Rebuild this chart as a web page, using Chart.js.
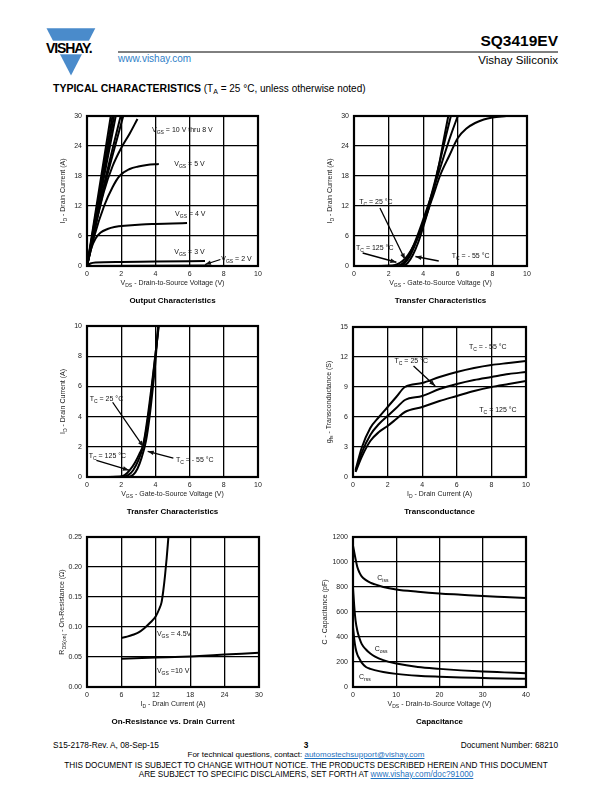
<!DOCTYPE html>
<html><head><meta charset="utf-8">
<script src="https://cdn.jsdelivr.net/npm/chart.js@4.4.1/dist/chart.umd.min.js"></script>
<style>
html,body{margin:0;padding:0;background:#fff;}
body{width:612px;height:792px;position:relative;overflow:hidden;font-family:"Liberation Sans",Arial,sans-serif;color:#000;}
.t{position:absolute;white-space:nowrap;line-height:1;}
canvas{position:absolute;}
a{color:#1f72c0;}
</style></head><body>
<svg class="t" style="left:0;top:0" width="612" height="100">
  <polygon points="46.5,28.3 95.3,28.3 71,75.5" fill="#4a8bcb"/>
  <rect x="40" y="40.7" width="60" height="13.6" fill="#fff"/>
  <line x1="118" y1="52" x2="558" y2="52" stroke="#000" stroke-width="1"/>
  <line x1="53" y1="738.5" x2="558" y2="738.5" stroke="#000" stroke-width="1"/>
</svg>
<div class="t" style="left:46px;top:41px;font-weight:bold;font-size:14px;letter-spacing:-1.1px;">VISHAY.</div>
<div class="t" style="right:54px;top:33px;font-weight:bold;font-size:15.5px;">SQ3419EV</div>
<div class="t" style="left:118px;top:54px;font-size:10px;color:#2f80c8;">www.vishay.com</div>
<div class="t" style="right:54px;top:55px;font-size:11.5px;">Vishay Siliconix</div>
<div class="t" style="left:53px;top:82.5px;font-size:10px;"><b style="font-size:10.5px">TYPICAL CHARACTERISTICS</b> (T<sub style="font-size:7px;vertical-align:-2px">A</sub> = 25 °C, unless otherwise noted)</div>
<canvas id="c1"></canvas><canvas id="c2"></canvas><canvas id="c3"></canvas>
<canvas id="c4"></canvas><canvas id="c5"></canvas><canvas id="c6"></canvas>
<div class="t" style="left:53px;top:740.5px;font-size:8.3px;">S15-2178-Rev. A, 08-Sep-15</div>
<div class="t" style="left:0;width:612px;text-align:center;top:740.5px;font-size:8.3px;font-weight:bold;">3</div>
<div class="t" style="right:54px;top:740.5px;font-size:8.3px;">Document Number: 68210</div>
<div class="t" style="left:0;width:612px;text-align:center;top:751px;font-size:8px;">For technical questions, contact: <a href="#">automostechsupport@vishay.com</a></div>
<div class="t" style="left:0;width:612px;text-align:center;top:762px;font-size:8.2px;">THIS DOCUMENT IS SUBJECT TO CHANGE WITHOUT NOTICE. THE PRODUCTS DESCRIBED HEREIN AND THIS DOCUMENT</div>
<div class="t" style="left:0;width:612px;text-align:center;top:771px;font-size:8.2px;">ARE SUBJECT TO SPECIFIC DISCLAIMERS, SET FORTH AT <a href="#">www.vishay.com/doc?91000</a></div>
<script>
// ================= DATA =================
// 1) Output characteristics: [VDS (V), ID (A)]
const outBundle1 = [[0,0],[0.7,15.1],[1.39,30]];
const outBundle2 = [[0,0],[0.75,15.1],[1.49,30]];
const outBundle3 = [[0,0],[0.8,15.2],[1.58,30]];
const outBundle4 = [[0,0],[0.85,15.2],[1.68,30]];
const outBundle5 = [[0,0],[0.5,8.4],[1.0,16.3],[1.5,23.5],[1.97,30]];
const outBundle6 = [[0,0],[0.5,8.1],[1.0,15.6],[1.5,22.2],[2.12,30]];
const outVgs6 = [[0,0],[0.5,8.0],[1.0,15.0],[1.5,20.0],[2.0,23.6],[2.5,26.5],[2.95,29.4]];
const outVgs5 = [[0,0],[0.43,6],[1.0,12],[1.5,15.8],[1.9,18],[2.5,19.4],[3.0,19.9],[3.5,20.2],[4.2,20.4]];
const outVgs4 = [[0,0],[0.25,3.5],[0.5,5.5],[0.8,6.7],[1.2,7.4],[1.6,7.8],[2.4,8.1],[3.2,8.3],[4.0,8.4],[5.0,8.5],[5.85,8.6]];
const outVgs3 = [[0,0],[0.2,0.5],[0.5,0.7],[2.0,0.8],[4.0,0.9],[6.9,1.0]];
const outVgs2 = [[0,0],[7.0,0.08]];
const outXTicks = [0,2,4,6,8,10];
const outYTicks = [0,6,12,18,24,30];

// 2) Transfer characteristics, 0-30 A: [VGS (V), ID (A)]
const tr30Tm55 = [[0,0],[2.8,0.05],[3.1,0.6],[3.4,2.2],[3.7,4.6],[4.0,7.8],[4.3,11.3],[4.6,15.3],[4.9,20],[5.2,25.5],[5.45,30]];
const tr30Tm40 = [[0,0],[2.6,0.05],[2.9,0.5],[3.2,1.8],[3.5,4.0],[3.8,6.7],[4.1,9.8],[4.4,13.3],[4.7,17.2],[5.0,21.4],[5.3,25.8],[5.6,30]];
const tr30T25 = [[0,0],[2.5,0.05],[2.8,0.5],[3.1,1.7],[3.4,3.8],[3.7,6.4],[4.0,9.3],[4.4,13.3],[4.8,17.6],[5.2,22],[5.6,26.2],[6.0,30]];
const tr30T125 = [[0,0],[2.2,0.05],[2.5,0.35],[2.8,1.0],[3.1,2.1],[3.5,4.4],[4.0,8.4],[4.5,13.3],[5.0,18.3],[5.5,22.0],[6.0,25.6],[6.5,27.5],[7.0,28.6],[7.5,29.3],[8.0,29.7],[8.8,30]];
const tr30XTicks = [0,2,4,6,8,10];
const tr30YTicks = [0,6,12,18,24,30];

// 3) Transfer characteristics, 0-10 A
const tr10T125 = [[0,0],[1.9,0.02],[2.2,0.12],[2.5,0.45],[2.8,0.95],[3.05,1.5],[3.3,2.2],[3.55,4.0],[3.8,6.2],[4.0,8.1],[4.2,10]];
const tr10T25 = [[0,0],[2.1,0.02],[2.4,0.12],[2.7,0.45],[3.0,1.1],[3.25,1.9],[3.45,3.0],[3.7,5.0],[3.9,7.0],[4.05,8.6],[4.18,10]];
const tr10Tm55 = [[0,0],[2.4,0.02],[2.7,0.15],[2.95,0.55],[3.2,1.3],[3.45,2.4],[3.65,3.9],[3.85,5.9],[4.0,7.6],[4.16,10]];
const tr10XTicks = [0,2,4,6,8,10];
const tr10YTicks = [0,2,4,6,8,10];

// 4) Transconductance: [ID (A), gfs (S)]
const gfsTm55 = [[0.15,0.7],[0.5,2.9],[1.0,4.9],[1.5,6.0],[2.0,7.0],[2.5,8.0],[3.0,9.0],[4.0,9.4],[5.0,10.0],[6.0,10.5],[7.0,10.9],[8.0,11.2],[9.0,11.4],[10,11.6]];
const gfsT25 = [[0.15,0.6],[0.5,2.4],[1.0,4.2],[1.5,5.3],[2.0,6.1],[2.5,6.9],[3.0,7.7],[4.0,8.1],[5.0,8.8],[6.0,9.3],[7.0,9.7],[8.0,10.0],[9.0,10.3],[10,10.5]];
const gfsT125 = [[0.15,0.5],[0.5,2.0],[1.0,3.6],[1.5,4.5],[2.0,5.1],[2.5,5.8],[3.0,6.5],[4.0,7.0],[5.0,7.6],[6.0,8.1],[7.0,8.6],[8.0,9.0],[9.0,9.3],[10,9.6]];
const gfsXTicks = [0,2,4,6,8,10];
const gfsYTicks = [0,3,6,9,12,15];

// 5) On-resistance: [ID (A), RDS(on) (ohm)]
const rdsVgs45 = [[6,0.082],[7,0.084],[8,0.087],[9,0.091],[10,0.098],[11,0.107],[12,0.118],[12.6,0.13],[13,0.141],[13.3,0.16],[13.6,0.185],[13.9,0.215],[14.2,0.25]];
const rdsVgs10 = [[6,0.047],[12,0.049],[18,0.051],[24,0.054],[30,0.057]];
const rdsXTicks = [0,6,12,18,24,30];
const rdsYTicks = [0,0.05,0.10,0.15,0.20,0.25];

// 6) Capacitance: [VDS (V), C (pF)]
const capCiss = [[0,1130],[0.5,1040],[1,960],[1.5,915],[2,885],[3,855],[4,835],[5,822],[7,800],[10,780],[15,762],[20,748],[25,738],[30,728],[35,720],[40,712]];
const capCoss = [[0,790],[0.3,640],[0.6,530],[1,450],[1.5,390],[2,345],[3,300],[4,268],[5,245],[7,215],[10,188],[15,160],[20,145],[25,133],[30,124],[35,117],[40,110]];
const capCrss = [[0,480],[0.3,380],[0.6,310],[1,260],[1.5,225],[2,195],[3,160],[4,145],[5,135],[7,120],[10,105],[15,90],[20,82],[25,76],[30,72],[35,68],[40,65]];
const capXTicks = [0,10,20,30,40];
const capYTicks = [0,200,400,600,800,1000,1200];

// ================= DRAWING =================
const FONT = '"Liberation Sans", Arial, sans-serif';
function parseRich(s){const out=[];const re=/_\{([^}]*)\}/g;let last=0,m;
  while((m=re.exec(s))){if(m.index>last)out.push({t:s.slice(last,m.index),sub:false});out.push({t:m[1],sub:true});last=re.lastIndex;}
  if(last<s.length)out.push({t:s.slice(last),sub:false});return out;}
function drawRich(ctx,s,x,y,size,align,bold){
  const segs=parseRich(s);const w=(b)=>(bold?'bold ':'')+b+'px '+FONT;
  let total=0;segs.forEach(g=>{ctx.font=w(g.sub?size*0.72:size);g.w=ctx.measureText(g.t).width;total+=g.w;});
  let cx=align==='center'?x-total/2:(align==='right'?x-total:x);
  const base=y+size*0.35;ctx.textAlign='left';ctx.textBaseline='alphabetic';
  segs.forEach(g=>{ctx.font=w(g.sub?size*0.72:size);ctx.fillText(g.t,cx,g.sub?base+size*0.28:base);cx+=g.w;});
}
function arrow(ctx,x1,y1,x2,y2){
  ctx.beginPath();ctx.moveTo(x1,y1);ctx.lineTo(x2,y2);ctx.lineWidth=1.3;ctx.stroke();
  const a=Math.atan2(y2-y1,x2-x1),L=6,W=2.3;
  ctx.beginPath();ctx.moveTo(x2,y2);
  ctx.lineTo(x2-L*Math.cos(a)+W*Math.sin(a),y2-L*Math.sin(a)-W*Math.cos(a));
  ctx.lineTo(x2-L*Math.cos(a)-W*Math.sin(a),y2-L*Math.sin(a)+W*Math.cos(a));
  ctx.closePath();ctx.fill();
}
const paper={id:'paper',afterDatasetsDraw(chart){
  const o=chart.options.plugins.paper;const ctx=chart.ctx;const a=chart.chartArea;
  const xs=chart.scales.x,ys=chart.scales.y;
  ctx.save();ctx.fillStyle='#111';ctx.strokeStyle='#000';
  (o.arrows||[]).forEach(r=>arrow(ctx,xs.getPixelForValue(r[0]),ys.getPixelForValue(r[1]),xs.getPixelForValue(r[2]),ys.getPixelForValue(r[3])));
  (o.notes||[]).forEach(n=>drawRich(ctx,n.text,xs.getPixelForValue(n.x),ys.getPixelForValue(n.y),7,n.align||'left',false));
  ctx.lineWidth=2.2;ctx.strokeRect(a.left,a.top,a.right-a.left,a.bottom-a.top);
  ctx.fillStyle='#222';
  drawRich(ctx,o.xTitle,(a.left+a.right)/2,a.bottom+17,7,'center',false);
  ctx.save();ctx.translate(a.left-(o.yOff||24),(a.top+a.bottom)/2);ctx.rotate(-Math.PI/2);
  drawRich(ctx,o.yTitle,0,0,7,'center',false);ctx.restore();
  ctx.fillStyle='#000';drawRich(ctx,o.title,(a.left+a.right)/2,a.bottom+34,8,'center',true);
  ctx.restore();
}};
function pts(arr){return arr.map(p=>({x:p[0],y:p[1]}));}
function make(id,box,series,xt,yt,fmt,extra){
  const [L,T,R,B]=box;const cv=document.getElementById(id);
  const W=(R-L)+65,H=(B-T)+55;cv.width=W;cv.height=H;cv.style.width=W+'px';cv.style.height=H+'px';
  cv.style.left=(L-50)+'px';cv.style.top=(T-10)+'px';
  const tickFont={family:FONT,size:7};
  new Chart(cv,{type:'scatter',
    data:{datasets:series.map(s=>({data:pts(s),showLine:true,pointRadius:0,borderColor:'#000',borderWidth:2,cubicInterpolationMode:'monotone',fill:false}))},
    options:{responsive:false,animation:false,devicePixelRatio:1,
      layout:{padding:{left:22,top:10,right:15,bottom:31}},
      plugins:{legend:{display:false},tooltip:{enabled:false},paper:extra},
      scales:{
        x:{type:'linear',min:xt[0],max:xt[xt.length-1],afterFit(s){s.height=14;},
           afterBuildTicks(s){s.ticks=xt.map(v=>({value:v}));},
           ticks:{font:tickFont,color:'#222',padding:4,maxRotation:0,autoSkip:false,callback:v=>String(v)},
           grid:{color:'#000',lineWidth:1.3,drawTicks:false},border:{display:false}},
        y:{type:'linear',min:yt[0],max:yt[yt.length-1],afterFit(s){s.width=28;},
           afterBuildTicks(s){s.ticks=yt.map(v=>({value:v}));},
           ticks:{font:tickFont,color:'#222',padding:5,autoSkip:false,callback:fmt||(v=>String(v))},
           grid:{color:'#000',lineWidth:1.3,drawTicks:false},border:{display:false}}
      }},plugins:[paper]});
}
const TC25='T_{C} = 25 °C',TC125='T_{C} = 125 °C',TCm55='T_{C} = - 55 °C';
make('c1',[87,116,258,266],[outBundle1,outBundle2,outBundle3,outBundle4,outBundle5,outBundle6,outVgs6,outVgs5,outVgs4,outVgs3,outVgs2],outXTicks,outYTicks,null,
  {xTitle:'V_{DS} - Drain-to-Source Voltage (V)',yTitle:'I_{D} - Drain Current (A)',title:'Output Characteristics',
   notes:[{x:3.8,y:27.3,text:'V_{GS} = 10 V thru 8 V'},{x:5.1,y:20.4,text:'V_{GS} = 5 V'},{x:5.15,y:10.5,text:'V_{GS} = 4 V'},{x:5.1,y:2.85,text:'V_{GS} = 3 V'},{x:7.85,y:1.5,text:'V_{GS} = 2 V'}],
   arrows:[[7.8,1.3,6.9,0.3]]});
make('c2',[354,116,527,266],[tr30Tm55,tr30Tm40,tr30T25,tr30T125],tr30XTicks,tr30YTicks,null,
  {xTitle:'V_{GS} - Gate-to-Source Voltage (V)',yTitle:'I_{D} - Drain Current (A)',title:'Transfer Characteristics',
   notes:[{x:0.3,y:12.8,text:TC25},{x:0.12,y:3.6,text:TC125},{x:5.65,y:2.05,text:TCm55}],
   arrows:[[1.5,11.6,2.95,1.3],[0.5,2.6,2.45,0.75],[4.9,1.0,3.55,1.9]]});
make('c3',[87,326,258,477],[tr10T125,tr10T25,tr10Tm55],tr10XTicks,tr10YTicks,null,
  {xTitle:'V_{GS} - Gate-to-Source Voltage (V)',yTitle:'I_{D} - Drain Current (A)',title:'Transfer Characteristics',
   notes:[{x:0.16,y:5.2,text:TC25},{x:0.1,y:1.4,text:TC125},{x:5.2,y:1.15,text:TCm55}],
   arrows:[[1.5,4.95,3.3,2.0],[0.55,1.1,2.45,0.45],[5.05,1.25,3.55,1.7]]});
make('c4',[353,327,526,477],[gfsTm55,gfsT25,gfsT125],gfsXTicks,gfsYTicks,null,
  {xTitle:'I_{D} - Drain Current (A)',yTitle:'g_{fs} - Transconductance (S)',title:'Transconductance',
   notes:[{x:6.7,y:13.0,text:TCm55},{x:2.4,y:11.6,text:TC25},{x:7.3,y:6.7,text:TC125}],
   arrows:[[3.5,11.1,4.75,9.1]]});
make('c5',[87,537,259,687],[rdsVgs45,rdsVgs10],rdsXTicks,rdsYTicks,v=>v.toFixed(2),
  {xTitle:'I_{D} - Drain Current (A)',yTitle:'R_{DS(on)} - On-Resistance (Ω)',title:'On-Resistance vs. Drain Current',yOff:25,
   notes:[{x:12.2,y:0.089,text:'V_{GS} = 4.5V'},{x:12.2,y:0.028,text:'V_{GS} =10 V'}]});
make('c6',[353,537,526,687],[capCiss,capCoss,capCrss],capXTicks,capYTicks,null,
  {xTitle:'V_{DS} - Drain-to-Source Voltage (V)',yTitle:'C - Capacitance (pF)',title:'Capacitance',yOff:28,
   notes:[{x:5.6,y:875,text:'C_{iss}'},{x:5.0,y:305,text:'C_{oss}'},{x:1.4,y:85,text:'C_{rss}'}]});
</script>
</body></html>
